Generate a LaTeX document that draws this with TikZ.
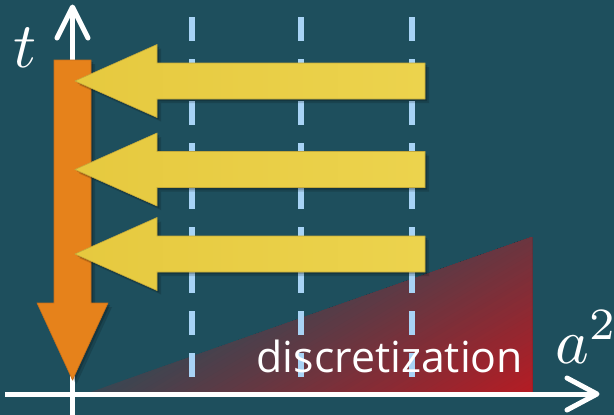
\documentclass[tikz,border=0pt]{standalone}
\usepackage{fontspec}
\newfontfamily\osans{Open Sans}
\usetikzlibrary{shadows}
\definecolor{bgc}{HTML}{1E4F5D}
\definecolor{gA}{HTML}{3A4652}
\definecolor{gB}{HTML}{B41C24}
\definecolor{dashc}{HTML}{A8D3F5}
\definecolor{orangec}{HTML}{E6821B}
\definecolor{orangeedge}{HTML}{C46E1A}
\definecolor{yelL}{HTML}{E6C93F}
\definecolor{yelR}{HTML}{ECD34D}
\definecolor{yeledge}{HTML}{C4A93A}
\tikzset{
  softshadow/.style={
    general shadow={fill=black, opacity=0.18, shadow xshift=2pt, shadow yshift=-2pt},
    general shadow={fill=black, opacity=0.15, shadow xshift=4pt, shadow yshift=-4pt}},
  axisline/.style={draw=white, line width=5pt},
  axishead/.style={draw=white, line width=5pt, line cap=round, line join=round},
  gridline/.style={draw=dashc, line width=6pt, dash pattern=on 24pt off 18pt},
  yarrow/.style={softshadow, left color=yelL, right color=yelR, draw=yeledge, line width=0.6pt},
  oarrow/.style={softshadow, fill=orangec, draw=orangeedge, line width=0.6pt},
  mathlabel/.style={inner sep=0pt, text=white, transform shape},
}
\begin{document}
\begin{tikzpicture}[x=1pt,y=-1pt]
\useasboundingbox (0,0) rectangle (614,415);
\fill[bgc] (0,0) rectangle (614,415);

% discretization wedge
\begin{scope}
  \clip (88,393) -- (532,237) -- (532,393) -- cycle;
  \fill[gA] (0,200) rectangle (614,415);
  \begin{scope}[shift={(100,390)}, rotate=-59.3]
    \foreach \i in {0,...,59}{
      \pgfmathtruncatemacro{\p}{round(100*(\i+0.5)/60)}
      \fill[gB!\p!gA] ({\i*222/60},-600) rectangle (700,600);
    }
  \end{scope}
\end{scope}

% dashed grid lines
\foreach \x/\n in {192/g1,301/g2,412/g3}{
  \coordinate (\n top) at (\x,17);
  \coordinate (\n bot) at (\x,378);
  \draw[gridline] (\n top) -- (\n bot);
}

% label
\node[anchor=base west, inner sep=0pt, text=white, font=\osans\fontsize{42.8}{42.8}\selectfont] (disc) at (256.5,372) {discretization};

% axes
\coordinate (origin) at (72.5,394);
\coordinate (ybot) at (72.5,415);
\coordinate (ytip) at (72.5,8);
\coordinate (xleft) at (5,394);
\coordinate (xtip) at (596,394);
\draw[axisline] (ybot) -- (ytip);
\draw[axisline] (xleft) -- (xtip);
\coordinate (yl) at (57,38);
\coordinate (yr) at (88,38);
\coordinate (xa) at (567,378);
\coordinate (xb) at (567,410);
\draw[axishead] (yl) -- (72.5,7) -- (yr);
\draw[axishead] (xa) -- (597,394) -- (xb);

% orange arrow (time)
\path[oarrow] (54,60) -- (91,60) -- (91,303) -- (108,303) -- (72.5,380) -- (37,303) -- (54,303) -- cycle;

% yellow arrows
\foreach \c in {81,169.5,254}{
  \path[yarrow] (425,\c-18) -- (157,\c-18) -- (157,\c-36.5) -- (75,\c) -- (157,\c+36.5) -- (157,\c+18) -- (425,\c+18) -- cycle;
}

% axis labels
\node[mathlabel, anchor=base, scale=6.4] (tlab) at (25.5,67) {$t$};
\node[mathlabel, anchor=base west, scale=6.4] (alab) at (554,363) {$a^2$};
\end{tikzpicture}
\end{document}
